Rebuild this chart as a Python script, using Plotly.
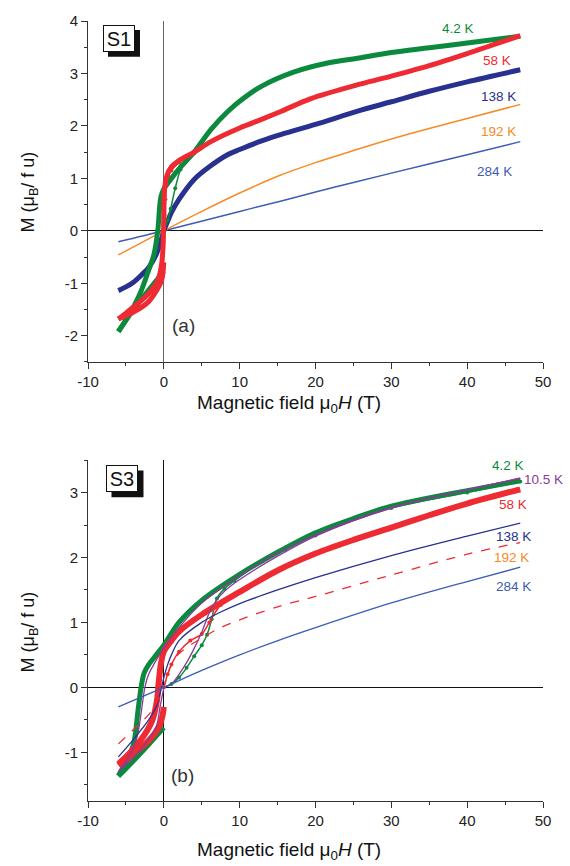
import plotly.graph_objects as go

# ---------------- Panel (a) S1 ----------------
S1_42_loop_x = [47, 40, 35, 30, 26, 21.6, 17.2, 12.8, 10, 8.4, 6.2, 4, 3, 2, 1, 0.5, 0, -0.4, -0.8, -1.3, -2, -3, -4, -5, -6]
S1_42_loop_y = [3.71, 3.58, 3.49, 3.4, 3.3, 3.2, 3.03, 2.75, 2.47, 2.27, 1.93, 1.5, 1.34, 1.18, 1.0, 0.9, 0.8, 0.64, 0.0, -0.45, -0.75, -1.15, -1.45, -1.7, -1.92]
S1_42_ret_x = [-6, -4, -2, 0]
S1_42_ret_y = [-1.92, -1.5, -1.13, -0.77]
S1_42_virgin_x = [0, 0.5, 0.9, 1.5, 2.2, 3.1, 4]
S1_42_virgin_y = [0, 0.2, 0.42, 0.81, 1.17, 1.42, 1.5]

S1_58_loop_x = [47, 40, 35, 30, 26, 19.4, 15.5, 12.8, 10, 6.2, 4, 2, 1, 0.4, 0.1, 0, -0.1, -0.3, -0.8, -2, -3, -4, -5, -6]
S1_58_loop_y = [3.72, 3.38, 3.15, 2.95, 2.8, 2.52, 2.28, 2.12, 1.96, 1.7, 1.5, 1.34, 1.22, 1.05, 0.8, 0.3, -0.3, -0.65, -0.95, -1.2, -1.33, -1.45, -1.57, -1.68]
S1_58_ret_x = [-6, -4, -2, -1, -0.3, 0]
S1_58_ret_y = [-1.68, -1.55, -1.35, -1.15, -0.95, -0.6]
S1_58_virgin_x = [0, 0.1, 0.2, 0.35, 0.6, 1, 2, 4]
S1_58_virgin_y = [0, 0.3, 0.6, 0.9, 1.05, 1.15, 1.3, 1.48]

S1_138_x = [-6, -5, -4, -3, -2, -1, -0.5, 0, 0.5, 1, 2, 4, 6, 8.4, 10, 12.8, 15.5, 20, 26, 30, 35, 40, 47]
S1_138_y = [-1.14, -1.07, -0.98, -0.85, -0.7, -0.45, -0.25, 0, 0.18, 0.35, 0.6, 0.98, 1.22, 1.45, 1.55, 1.71, 1.84, 2.03, 2.3, 2.46, 2.66, 2.84, 3.07]

S1_192_x = [-6, 0, 5, 10, 15, 20, 25, 30, 35, 40, 47]
S1_192_y = [-0.46, 0, 0.37, 0.72, 1.04, 1.3, 1.53, 1.75, 1.95, 2.14, 2.41]

S1_284_x = [-6, 0, 10, 15.5, 20, 25, 30, 40, 47]
S1_284_y = [-0.21, 0, 0.37, 0.57, 0.74, 0.92, 1.1, 1.45, 1.7]

# ---------------- Panel (b) S3 ----------------
S3_42_loop_x = [47, 40, 30, 25, 20, 15, 10, 5, 2, 0, -1, -2, -2.6, -3, -3.4, -4, -5, -6]
S3_42_loop_y = [3.18, 3.03, 2.79, 2.6, 2.38, 2.08, 1.74, 1.34, 1.0, 0.65, 0.5, 0.35, 0.22, 0.0, -0.35, -0.88, -1.15, -1.36]
S3_42_ret_x = [-6, -4, -2, 0]
S3_42_ret_y = [-1.37, -1.13, -0.88, -0.62]
S3_42_virgin_x = [0, 1, 2, 3, 4, 5, 5.7, 6.3, 7, 8, 9.3, 13, 16, 20, 30, 40, 47]
S3_42_virgin_y = [0, 0.05, 0.15, 0.3, 0.48, 0.65, 0.81, 1.05, 1.37, 1.52, 1.64, 1.94, 2.12, 2.34, 2.76, 3.0, 3.17]

S3_105_loop_x = [47, 40, 30, 20, 15, 10, 5, 2, 0, -1, -2, -2.5, -3, -3.5, -4.5, -6]
S3_105_loop_y = [3.22, 3.04, 2.77, 2.35, 2.07, 1.72, 1.3, 0.92, 0.6, 0.42, 0.2, 0.0, -0.4, -0.75, -1.05, -1.3]
S3_105_ret_x = [-6, -3, -1, -0.5, 0]
S3_105_ret_y = [-1.3, -0.95, -0.6, -0.3, 0.0]
S3_105_virgin_x = [0, 1, 2, 3, 4, 5, 6, 7, 8, 10, 15, 20, 30, 40, 47]
S3_105_virgin_y = [0, 0.05, 0.2, 0.38, 0.6, 0.85, 1.15, 1.35, 1.48, 1.66, 2.02, 2.33, 2.76, 3.04, 3.22]

S3_58_loop_x = [47, 40, 35, 30, 25, 20, 15, 10, 5, 2, 1, 0, -0.4, -0.7, -0.9, -1.5, -2.5, -4, -5, -6]
S3_58_loop_y = [3.05, 2.83, 2.65, 2.46, 2.27, 2.06, 1.8, 1.47, 1.12, 0.86, 0.72, 0.55, 0.35, 0.05, -0.2, -0.5, -0.72, -0.95, -1.07, -1.18]
S3_58_ret_x = [-6, -4, -2, -0.6, -0.2, 0]
S3_58_ret_y = [-1.2, -1.02, -0.82, -0.6, -0.45, -0.3]
S3_58_virgin_x = [0, 0.5, 1, 2, 3.5, 5, 6, 7.5, 10]
S3_58_virgin_y = [0, 0.2, 0.35, 0.55, 0.72, 0.82, 1.0, 1.27, 1.47]

S3_138_x = [-6, -4, -2, -1, -0.5, 0, 0.5, 1, 2, 5, 7.5, 10, 15, 20, 30, 40, 47]
S3_138_y = [-1.07, -0.8, -0.5, -0.3, -0.1, 0.15, 0.35, 0.5, 0.72, 1.0, 1.16, 1.29, 1.5, 1.69, 2.03, 2.33, 2.53]

S3_192_x = [-6, -4, -2, -1, 0, 0.5, 1, 2, 5, 7.5, 10, 15, 20, 30, 40, 47]
S3_192_y = [-0.87, -0.65, -0.42, -0.25, 0.0, 0.2, 0.35, 0.52, 0.76, 0.92, 1.04, 1.24, 1.4, 1.73, 2.05, 2.23]

S3_284_x = [-6, -3, 0, 5, 10, 15.5, 20, 30, 40, 47]
S3_284_y = [-0.3, -0.15, 0.0, 0.26, 0.5, 0.74, 0.92, 1.3, 1.63, 1.85]

# ---------------- labels / ticks ----------------
x_tickvals = [-10, 0, 10, 20, 30, 40, 50]
x_ticktext = ["-10", "0", "10", "20", "30", "40", "50"]
ya_tickvals = [-2, -1, 0, 1, 2, 3, 4]
ya_ticktext = ["-2", "-1", "0", "1", "2", "3", "4"]
yb_tickvals = [-1, 0, 1, 2, 3]
yb_ticktext = ["-1", "0", "1", "2", "3"]

S1_labels = ["4.2 K", "58 K", "138 K", "192 K", "284 K"]
S1_label_x = [38.8, 43.9, 44.1, 44.1, 43.6]
S1_label_y = [3.86, 3.24, 2.56, 1.89, 1.14]
S3_labels = ["4.2 K", "10.5 K", "58 K", "138 K", "192 K", "284 K"]
S3_label_x = [45.4, 50.0, 46.1, 46.1, 45.8, 46.1]
S3_label_y = [3.41, 3.2, 2.82, 2.32, 2.0, 1.55]

GREEN = "#0b8a3e"
RED = "#ee2a32"
NAVY = "#28318f"
ORANGE = "#f78a26"
BLUE = "#3d5cb3"
PURPLE = "#8b3a98"
S1_label_colors = [GREEN, RED, NAVY, ORANGE, BLUE]
S3_label_colors = [GREEN, PURPLE, RED, NAVY, ORANGE, BLUE]

FONT = "Liberation Sans"

fig = go.Figure()


def add_line(x, y, color, width, xa, ya, dash="solid", markers=False):
    fig.add_trace(go.Scatter(
        x=x, y=y, xaxis=xa, yaxis=ya,
        mode="lines+markers" if markers else "lines",
        line=dict(color=color, width=width, shape="spline", smoothing=0.9, dash=dash),
        marker=dict(color=color, size=4, symbol="circle"),
        hoverinfo="skip", showlegend=False,
    ))


# Panel (a)
add_line(S1_284_x, S1_284_y, BLUE, 1.5, "x", "y")
add_line(S1_192_x, S1_192_y, ORANGE, 1.5, "x", "y")
add_line(S1_138_x, S1_138_y, NAVY, 5, "x", "y")
add_line(S1_42_loop_x, S1_42_loop_y, GREEN, 5, "x", "y")
add_line(S1_42_ret_x, S1_42_ret_y, GREEN, 5, "x", "y")
add_line(S1_42_virgin_x, S1_42_virgin_y, GREEN, 1.5, "x", "y", markers=True)
add_line(S1_58_loop_x, S1_58_loop_y, RED, 5, "x", "y")
add_line(S1_58_ret_x, S1_58_ret_y, RED, 5, "x", "y")
add_line(S1_58_virgin_x, S1_58_virgin_y, RED, 1.5, "x", "y", markers=True)

# Panel (b)
add_line(S3_42_loop_x, S3_42_loop_y, GREEN, 5, "x2", "y2")
add_line(S3_42_ret_x, S3_42_ret_y, GREEN, 5, "x2", "y2")
add_line(S3_42_virgin_x, S3_42_virgin_y, GREEN, 1.5, "x2", "y2", markers=True)
add_line(S3_58_loop_x, S3_58_loop_y, RED, 6, "x2", "y2")
add_line(S3_58_ret_x, S3_58_ret_y, RED, 6, "x2", "y2")
add_line(S3_58_virgin_x, S3_58_virgin_y, RED, 1.5, "x2", "y2", markers=True)
add_line(S3_105_loop_x, S3_105_loop_y, PURPLE, 1.3, "x2", "y2")
add_line(S3_105_ret_x, S3_105_ret_y, PURPLE, 1.3, "x2", "y2")
add_line(S3_105_virgin_x, S3_105_virgin_y, PURPLE, 1.3, "x2", "y2")
add_line(S3_138_x, S3_138_y, NAVY, 1.3, "x2", "y2")
add_line(S3_192_x, S3_192_y, RED, 1.3, "x2", "y2", dash="dash")
add_line(S3_284_x, S3_284_y, BLUE, 1.3, "x2", "y2")

axis_common = dict(
    showline=True, linecolor="#333", linewidth=1, showgrid=False,
    ticks="outside", ticklen=6, tickwidth=1, tickcolor="#333",
    tickfont=dict(family=FONT, size=15, color="#222"),
    ticklabeloverflow="allow",
    zeroline=True, zerolinewidth=1.2,
)

fig.update_layout(
    width=570, height=866,
    margin=dict(l=88, r=27, t=14, b=65),
    paper_bgcolor="white", plot_bgcolor="white",
    font=dict(family=FONT),
    xaxis=dict(axis_common, domain=[0, 1], anchor="y", range=[-10, 50],
               tickvals=x_tickvals, ticktext=x_ticktext, zerolinecolor="#666",
               minor=dict(dtick=5, tick0=0, ticks="outside", ticklen=3, tickcolor="#333")),
    yaxis=dict(axis_common, domain=[0.5629, 1], anchor="x", range=[-2.5, 4],
               tickvals=ya_tickvals, ticktext=ya_ticktext, zerolinecolor="#111",
               minor=dict(dtick=0.5, tick0=0, ticks="outside", ticklen=3, tickcolor="#333")),
    xaxis2=dict(axis_common, domain=[0, 1], anchor="y2", range=[-10, 50],
                tickvals=x_tickvals, ticktext=x_ticktext, zerolinecolor="#111",
                minor=dict(dtick=5, tick0=0, ticks="outside", ticklen=3, tickcolor="#333")),
    yaxis2=dict(axis_common, domain=[0, 0.4371], anchor="x2", range=[-1.75, 3.5],
                tickvals=yb_tickvals, ticktext=yb_ticktext, zerolinecolor="#111",
                minor=dict(dtick=0.5, tick0=0, ticks="outside", ticklen=3, tickcolor="#333")),
)

annotations = []
for t, x, y, c in zip(S1_labels, S1_label_x, S1_label_y, S1_label_colors):
    annotations.append(dict(text=t, x=x, y=y, xref="x", yref="y", showarrow=False,
                            xanchor="center", yanchor="middle",
                            font=dict(family=FONT, size=13.5, color=c)))
for t, x, y, c in zip(S3_labels, S3_label_x, S3_label_y, S3_label_colors):
    annotations.append(dict(text=t, x=x, y=y, xref="x2", yref="y2", showarrow=False,
                            xanchor="center", yanchor="middle",
                            font=dict(family=FONT, size=13.5, color=c)))

# framed sample tags (shadow drawn as a shape beneath)
shapes = []
for tag, tx, ty in [("S1", 0.0681, 0.9778), ("S3", 0.0758, 0.4130)]:
    annotations.append(dict(text=tag, x=tx, y=ty, xref="paper", yref="paper", showarrow=False,
                            xanchor="center", yanchor="middle",
                            width=30, height=25, borderpad=0,
                            bgcolor="white", bordercolor="#111", borderwidth=1,
                            font=dict(family=FONT, size=20, color="#111")))
    dx = 16 / 455.0
    dy = 13.5 / 787.0
    shapes.append(dict(type="rect", xref="paper", yref="paper", layer="below",
                       x0=tx - dx + 5 / 455.0, x1=tx + dx + 5 / 455.0,
                       y0=ty - dy - 5 / 787.0, y1=ty + dy - 5 / 787.0,
                       fillcolor="#111", line=dict(width=0)))

annotations += [
    dict(text="(a)", x=2.6, y=-1.8, xref="x", yref="y", showarrow=False,
         xanchor="center", yanchor="middle",
         font=dict(family=FONT, size=19, color="#333")),
    dict(text="(b)", x=2.5, y=-1.36, xref="x2", yref="y2", showarrow=False,
         xanchor="center", yanchor="middle",
         font=dict(family=FONT, size=19, color="#333")),
    dict(text="M (μ<sub>B</sub>/ f u)", x=-0.1275, y=0.7814, xref="paper", yref="paper",
         xanchor="center", yanchor="middle",
         showarrow=False, textangle=-90, font=dict(family=FONT, size=18, color="#111")),
    dict(text="M (μ<sub>B</sub>/ f u)", x=-0.1275, y=0.2173, xref="paper", yref="paper",
         xanchor="center", yanchor="middle",
         showarrow=False, textangle=-90, font=dict(family=FONT, size=18, color="#111")),
    dict(text="Magnetic field μ<sub>0</sub><i>H</i> (T)", x=0.4418, y=0.5095, xref="paper",
         xanchor="center", yanchor="middle",
         yref="paper", showarrow=False, font=dict(family=FONT, size=19, color="#111")),
    dict(text="Magnetic field μ<sub>0</sub><i>H</i> (T)", x=0.4418, y=-0.0635, xref="paper",
         xanchor="center", yanchor="middle",
         yref="paper", showarrow=False, font=dict(family=FONT, size=19, color="#111")),
]
fig.update_layout(annotations=annotations, shapes=shapes)

# remove the browser's default 8px body margin so the figure fills the window exactly
fig.write_html("out.html", config={"displayModeBar": False},
               post_script="document.body.style.margin='0px';document.body.style.overflow='hidden';")
